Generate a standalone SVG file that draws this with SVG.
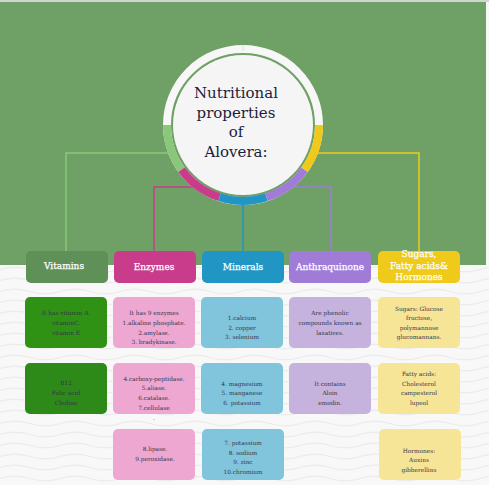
<svg xmlns="http://www.w3.org/2000/svg" width="489" height="485" viewBox="0 0 489 485">
<style>
.hdr{font-family:"DejaVu Serif","Liberation Serif",serif;font-size:9px;fill:#ffffff;stroke:#ffffff;stroke-width:0.25;text-anchor:middle}
.txt{font-family:"DejaVu Serif","Liberation Serif",serif;font-size:5.8px;fill:#35354a;text-anchor:middle}
.title{font-family:"DejaVu Serif","Liberation Serif",serif;font-size:15px;fill:#1c1c3c;text-anchor:middle}
.con{fill:none;stroke-width:1.5}
</style>
<defs>
<pattern id="waves" width="60" height="11" patternUnits="userSpaceOnUse">
<path d="M0 5.5 Q15 1 30 5.5 T60 5.5" fill="none" stroke="#ececec" stroke-width="1.3"/>
</pattern>
</defs>
<rect x="0" y="0" width="489" height="485" fill="#f8f8f8"/>
<rect x="0" y="265" width="489" height="220" fill="url(#waves)"/>
<rect x="0" y="2" width="486" height="263" fill="#6fa066"/>
<rect x="0" y="0" width="489" height="2" fill="#d4d4d4"/>

<g id="connectors">
<path class="con" stroke="#8bc77b" d="M172 153 H66 V251"/>
<path class="con" stroke="#c83c8b" d="M196 187 H154 V251"/>
<path class="con" stroke="#2196c4" d="M243 200 V251"/>
<path class="con" stroke="#a07bd8" d="M290 187 H331 V251"/>
<path class="con" stroke="#f0ca1a" d="M314 153 H419 V251"/>
</g>

<g id="center">
<circle cx="243" cy="125" r="80" fill="#6fa066"/>
<circle cx="243" cy="125" r="76" fill="none" stroke="#f7f7f7" stroke-width="8"/>
<path d="M167 125 A76 76 0 0 0 181.51 169.67" fill="none" stroke="#8bc77b" stroke-width="8"/>
<path d="M181.51 169.67 A76 76 0 0 0 219.51 197.28" fill="none" stroke="#c83c8b" stroke-width="8"/>
<path d="M219.51 197.28 A76 76 0 0 0 266.49 197.28" fill="none" stroke="#2196c4" stroke-width="8"/>
<path d="M266.49 197.28 A76 76 0 0 0 304.49 169.67" fill="none" stroke="#a07bd8" stroke-width="8"/>
<path d="M304.49 169.67 A76 76 0 0 0 319 125" fill="none" stroke="#f0ca1a" stroke-width="8"/>
<line x1="243" y1="45" x2="243" y2="51" stroke="#cccccc" stroke-width="0.6"/>
<circle cx="243" cy="125" r="70" fill="#f5f5f5"/>
<text class="title" x="236" y="98">Nutritional</text>
<text class="title" x="236" y="118">properties</text>
<text class="title" x="236" y="137">of</text>
<text class="title" x="236" y="157">Alovera:</text>
</g>

<g id="h-vitamins"><rect x="26" y="251" width="82" height="32" rx="5" fill="#5f9057"/><text class="hdr" x="64" y="269">Vitamins</text></g>
<g id="h-enzymes"><rect x="114" y="251" width="82" height="32" rx="5" fill="#c83c8b"/><text class="hdr" x="154" y="270">Enzymes</text></g>
<g id="h-minerals"><rect x="202" y="251" width="82" height="32" rx="5" fill="#2196c4"/><text class="hdr" x="243" y="270">Minerals</text></g>
<g id="h-anthra"><rect x="289" y="251" width="82" height="32" rx="5" fill="#a07bd8"/><text class="hdr" x="330" y="270">Anthraquinone</text></g>
<g id="h-sugars"><rect x="378" y="251" width="82" height="32" rx="5" fill="#f0ca1a"/>
<text class="hdr" x="419" y="257">Sugars,</text><text class="hdr" x="419" y="268.5">Fatty acids&amp;</text><text class="hdr" x="419" y="279.5">Hormones</text></g>

<g id="vit-1"><rect x="25" y="297" width="82" height="51" rx="5" fill="#2f9215"/>
<text class="txt" x="66" y="315">It has vitamin A.</text><text class="txt" x="66" y="325">vitaminC.</text><text class="txt" x="66" y="335">vitamin E</text></g>
<g id="vit-2"><rect x="25" y="363" width="82" height="51" rx="5" fill="#2d8a19"/>
<text class="txt" x="66" y="385">B12</text><text class="txt" x="66" y="395">Folic acid</text><text class="txt" x="66" y="405">Choline</text></g>

<g id="enz-1"><rect x="113" y="297" width="82" height="51" rx="5" fill="#eea7d1"/>
<text class="txt" x="154" y="315">It has 9 enzymes</text><text class="txt" x="154" y="325">1.alkaline phosphate.</text><text class="txt" x="154" y="335">2.amylase.</text><text class="txt" x="154" y="344">3. bradykinase.</text></g>
<g id="enz-2"><rect x="113" y="363" width="82" height="51" rx="5" fill="#eea7d1"/>
<text class="txt" x="154" y="381">4.carboxy-peptidase.</text><text class="txt" x="154" y="390">5.aliase.</text><text class="txt" x="154" y="400">6.catalase.</text><text class="txt" x="154" y="410">7.cellulase</text></g>
<text class="txt" x="154" y="420">.</text>
<g id="enz-3"><rect x="113" y="429" width="82" height="51" rx="5" fill="#eea7d1"/>
<text class="txt" x="155" y="451">8.lipase.</text><text class="txt" x="155" y="461">9.peroxidase.</text></g>

<g id="min-1"><rect x="201" y="297" width="82" height="51" rx="5" fill="#80c5dc"/>
<text class="txt" x="242" y="320">1.calcium</text><text class="txt" x="242" y="330">2. copper</text><text class="txt" x="242" y="339">3. selenium</text></g>
<g id="min-2"><rect x="201" y="363" width="82" height="51" rx="5" fill="#80c5dc"/>
<text class="txt" x="242" y="386">4. magnesium</text><text class="txt" x="242" y="395">5. manganese</text><text class="txt" x="242" y="405">6. potassium</text></g>
<g id="min-3"><rect x="202" y="429" width="82" height="51" rx="5" fill="#80c5dc"/>
<text class="txt" x="243" y="445">7. potassium</text><text class="txt" x="243" y="455">8. sodium</text><text class="txt" x="243" y="464">9. zinc</text><text class="txt" x="243" y="474">10.chromium</text></g>

<g id="ant-1"><rect x="289" y="297" width="82" height="51" rx="5" fill="#c5b2dd"/>
<text class="txt" x="330" y="315">Are phenolic</text><text class="txt" x="330" y="325">compounds known as</text><text class="txt" x="330" y="335">laxatives.</text></g>
<g id="ant-2"><rect x="289" y="363" width="82" height="51" rx="5" fill="#c5b2dd"/>
<text class="txt" x="330" y="386">It contains</text><text class="txt" x="330" y="395">Aloin</text><text class="txt" x="330" y="405">emodin.</text></g>

<g id="sug-1"><rect x="378" y="297" width="82" height="51" rx="5" fill="#f7e597"/>
<text class="txt" x="419" y="311">Sugars: Glucose</text><text class="txt" x="419" y="320">fructose,</text><text class="txt" x="419" y="330">polymannose</text><text class="txt" x="419" y="339">glucomannans.</text></g>
<g id="sug-2"><rect x="378" y="363" width="82" height="51" rx="5" fill="#f7e597"/>
<text class="txt" x="419" y="376">Fatty acids:</text><text class="txt" x="419" y="386">Cholesterol</text><text class="txt" x="419" y="395">campesterol</text><text class="txt" x="419" y="405">lupeol</text></g>
<g id="sug-3"><rect x="379" y="429" width="82" height="51" rx="5" fill="#f7e597"/>
<text class="txt" x="419" y="453">Hormones:</text><text class="txt" x="419" y="462">Auxins</text><text class="txt" x="419" y="472">gibberellins</text></g>
</svg>
